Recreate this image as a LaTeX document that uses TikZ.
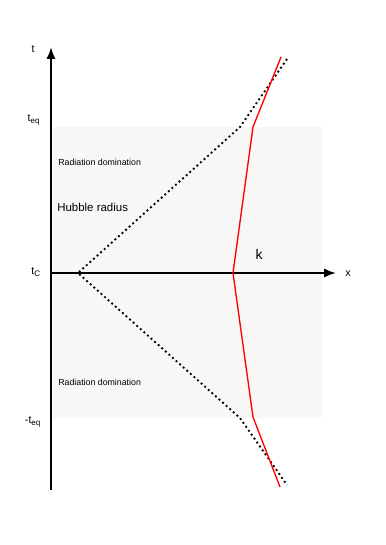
\documentclass[tikz,border=0pt]{standalone}
\usepackage{fontspec}
\setmainfont{Liberation Sans}
\usetikzlibrary{positioning,arrows.meta}
\tikzset{
  axis/.style={line width=1.6pt,-{Latex[length=9pt,width=7pt]}},
  horizon/.style={line width=1.4pt,dash pattern=on 1.4pt off 2.2pt},
  mode/.style={red,line width=1pt},
  lbl/.style={font=\fontsize{8}{9}\selectfont,inner sep=0pt},
  era/.style={font=\fontsize{6.6}{8}\selectfont,inner sep=0pt,anchor=west}
}
\begin{document}
\begin{tikzpicture}[x=0.75pt,y=-0.75pt]
\useasboundingbox (0,0) rectangle (385,545);
% shaded radiation era
\fill[black!3] (52,127) rectangle (322,418);
\coordinate (O) at (51,273);
\coordinate (Tb) at (51,490);
\coordinate (Tt) at (51,47);
\coordinate (Xe) at (336,273);
\coordinate (H0) at (78,273);
\coordinate (H1) at (240,127);
\coordinate (H2) at (287,59);
\coordinate (H3) at (240,418);
\coordinate (H4) at (287,485);
\coordinate (K0) at (233,273);
\coordinate (K1) at (253,127);
\coordinate (K2) at (281,57);
\coordinate (K3) at (253,417);
\coordinate (K4) at (280,487);
\draw[axis] (Tb)--(Tt);
\draw[axis] (O)--(Xe);
\draw[horizon] (H2)--(H1)--(H0)--(H3)--(H4);
\draw[mode] (K2)--(K1)--(K0)--(K3)--(K4);
\node[lbl] (t) at (33,49) {t};
\node[lbl] (x) at (348,274) {x};
\node[lbl] (teq) at (34,120) {t\textsubscript{eq}};
\node[lbl] (tc) at (36,272) {t\textsubscript{C}};
\node[lbl] (mteq) at (33,422) {-t\textsubscript{eq}};
\node[era] (radtop) at (58,162) {Radiation domination};
\node[era] (radbot) at (58,382) {Radiation domination};
\node[era,font=\fontsize{8.6}{10}\selectfont] (hub) at (57,207) {Hubble radius};
\node[lbl,font=\fontsize{10.5}{12}\selectfont] (k) at (259,254) {k};
\end{tikzpicture}
\end{document}
